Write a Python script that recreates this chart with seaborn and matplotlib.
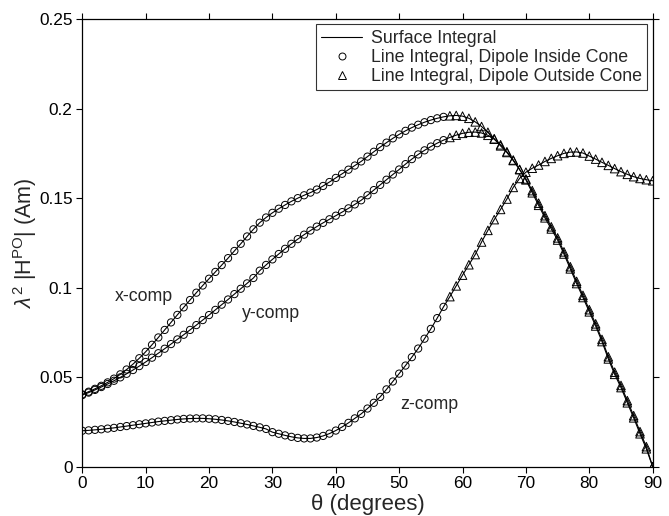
import numpy as np
import pandas as pd
import seaborn as sns
import matplotlib
matplotlib.use("Agg")
import matplotlib.pyplot as plt
from matplotlib.lines import Line2D
from matplotlib.ticker import FuncFormatter

# ------------------------------
# Data (theta in degrees, 1 deg steps)
# ------------------------------
theta = np.arange(0, 91)

x_comp = [
    .0404, .0419, .0435, .0452, .0471, .0492, .0516, .0543, .0573, .0606,
    .0642, .0681, .0722, .0764, .0806, .0848, .0890, .0931, .0972, .1012,
    .1050, .1088, .1126, .1165, .1205, .1245, .1286, .1326, .1363, .1392,
    .1418, .1441, .1462, .1482, .1500, .1516, .1531, .1548, .1568, .1590,
    .1613, .1636, .1659, .1682, .1705, .1732, .1759, .1785, .1810, .1834,
    .1856, .1876, .1894, .1910, .1924, .1936, .1946, .1954, .1960, .1962,
    .1958, .1946, .1926, .1900, .1868, .1832, .1792, .1755, .1710, .1660,
    .1607, .1542, .1472, .1402, .1340, .1278, .1200, .1117, .1035, .0957,
    .0877, .0798, .0711, .0614, .0528, .0454, .0369, .0285, .0196, .0112,
    .0000,
]

y_comp = [
    .0400, .0414, .0429, .0445, .0462, .0480, .0499, .0519, .0540, .0562,
    .0585, .0609, .0634, .0659, .0685, .0711, .0737, .0764, .0791, .0819,
    .0847, .0876, .0905, .0934, .0964, .0994, .1024, .1054, .1095, .1127,
    .1158, .1188, .1217, .1245, .1271, .1296, .1319, .1341, .1362, .1382,
    .1402, .1422, .1443, .1465, .1488, .1516, .1545, .1574, .1603, .1632,
    .1660, .1690, .1718, .1744, .1767, .1788, .1807, .1824, .1839, .1852,
    .1862, .1868, .1869, .1864, .1851, .1829, .1798, .1759, .1713, .1660,
    .1602, .1530, .1460, .1390, .1328, .1266, .1188, .1105, .1023, .0945,
    .0865, .0786, .0699, .0602, .0516, .0442, .0357, .0273, .0184, .0100,
    .0000,
]

z_comp = [
    .0201, .0203, .0206, .0209, .0213, .0217, .0222, .0227, .0232, .0237,
    .0242, .0247, .0252, .0256, .0260, .0264, .0267, .0269, .0270, .0270,
    .0268, .0265, .0261, .0256, .0250, .0243, .0236, .0228, .0220, .0211,
    .0193, .0184, .0175, .0167, .0161, .0158, .0158, .0163, .0172, .0185,
    .0202, .0222, .0245, .0270, .0295, .0325, .0357, .0390, .0432, .0476,
    .0520, .0565, .0612, .0660, .0715, .0770, .0830, .0893, .0950, .1010,
    .1070, .1128, .1185, .1255, .1320, .1380, .1437, .1495, .1560, .1610,
    .1645, .1667, .1685, .1705, .1722, .1737, .1750, .1757, .1758, .1752,
    .1735, .1718, .1700, .1683, .1665, .1648, .1633, .1620, .1610, .1603,
    .1597,
]

# last theta where the dipole is still inside the cone
cone_edge = 57

comp_labels = ["x-comp", "y-comp", "z-comp"]
label_pos = [(5.2, 0.0948), (25.2, 0.0858), (50.2, 0.0345)]

# ------------------------------
# Style
# ------------------------------
sns.set_theme(style="ticks")
plt.rcParams["font.family"] = ["Liberation Sans", "DejaVu Sans"]
plt.rcParams["mathtext.fontset"] = "custom"
plt.rcParams["mathtext.rm"] = "Liberation Sans"
plt.rcParams["mathtext.it"] = "Liberation Sans:italic"

FS = 12.8

frames = []
for name, vals in zip(comp_labels, [x_comp, y_comp, z_comp]):
    frames.append(pd.DataFrame({"theta": theta, "value": vals, "comp": name}))
df = pd.concat(frames, ignore_index=True)
df["cone"] = np.where(df["theta"] <= cone_edge, "inside", "outside")

fig = plt.figure(figsize=(6.69, 5.16), dpi=100)
ax = fig.add_axes([0.123, 0.0955, 0.8526, 0.8675])

# surface integral: solid lines
sns.lineplot(
    data=df, x="theta", y="value", units="comp", estimator=None,
    color="black", linewidth=0.8, ax=ax, legend=False
)

# line integral: open markers (circles inside cone, triangles outside)
sns.scatterplot(
    data=df[df["cone"] == "inside"], x="theta", y="value",
    marker="o", s=27, color="black", linewidth=0.7, ax=ax, legend=False
)
sns.scatterplot(
    data=df[df["cone"] == "outside"], x="theta", y="value",
    marker="^", s=38, color="black", linewidth=0.7, ax=ax, legend=False
)
for coll in ax.collections:
    coll.set_facecolor("none")
    coll.set_edgecolor("black")

for text, (tx, ty) in zip(comp_labels, label_pos):
    ax.text(tx, ty, text, fontsize=FS, ha="left", va="center")

ax.set_xlim(0, 90)
ax.set_ylim(0, 0.25)
ax.set_xticks(np.arange(0, 91, 10))
ax.set_yticks(np.arange(0, 0.2501, 0.05))
ax.yaxis.set_major_formatter(FuncFormatter(lambda v, p: f"{v:g}"))
ax.tick_params(direction="out", length=4, width=0.8, labelsize=12.4,
               top=True, right=True, colors="black", pad=3)
for sp in ax.spines.values():
    sp.set_visible(True)
    sp.set_color("black")
    sp.set_linewidth(0.9)

ax.set_xlabel("θ (degrees)", fontsize=16, labelpad=2)
ax.set_ylabel(r"$\lambda^2\ |\mathrm{H}^{\mathrm{PO}}|$ (Am)", fontsize=15.5, labelpad=0)

handles = [
    Line2D([], [], color="black", linewidth=0.8),
    Line2D([], [], linestyle="none", marker="o", markersize=5,
           markerfacecolor="none", markeredgecolor="black", markeredgewidth=0.7),
    Line2D([], [], linestyle="none", marker="^", markersize=5.5,
           markerfacecolor="none", markeredgecolor="black", markeredgewidth=0.7),
]
names = ["Surface Integral", "Line Integral, Dipole Inside Cone",
         "Line Integral, Dipole Outside Cone"]
leg = ax.legend(handles, names, loc="upper right", fontsize=FS,
                frameon=True, fancybox=False, borderpad=0.3,
                labelspacing=0.12, handlelength=2.3, handletextpad=0.5,
                borderaxespad=0.3)
leg.get_frame().set_edgecolor("black")
leg.get_frame().set_linewidth(0.8)

fig.savefig("out.png", dpi=100)
